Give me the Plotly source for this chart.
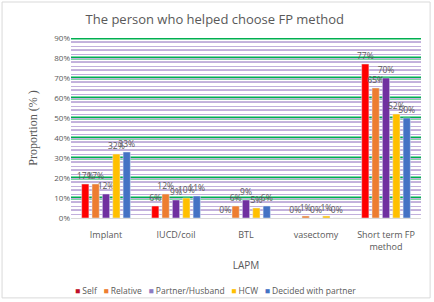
import plotly.graph_objects as go

categories = ["Implant", "IUCD/coil", "BTL", "vasectomy", "Short term FP<br>method"]
series_names = ["Self", "Relative", "Partner/Husband", "HCW", "Decided with partner"]
self_vals = [17, 6, 0, 0, 77]
relative_vals = [17, 12, 6, 1, 65]
partner_vals = [12, 9, 9, 0, 70]
hcw_vals = [32, 10, 5, 1, 52]
decided_vals = [33, 11, 6, 0, 50]
colors = ["#FF0000", "#ED7D31", "#7030A0", "#FFC000", "#4472C4"]
legend_colors = ["#C0102A", "#ED7D31", "#8E7CC3", "#FFC000", "#4472C4"]
y_ticks = [0, 10, 20, 30, 40, 50, 60, 70, 80, 90]

fig = go.Figure()
for name, vals, col in zip(series_names, [self_vals, relative_vals, partner_vals, hcw_vals, decided_vals], colors):
    fig.add_trace(go.Bar(
        x=categories, y=vals, name=name, marker_color=col,
        text=[f"{v}%" for v in vals], textposition="outside", constraintext="none",
        textfont=dict(size=8.5, color="#595959", family="Open Sans"),
        cliponaxis=False, showlegend=False,
    ))

# gridlines: green major every 10, alternating darker purple minor lines
for v in y_ticks[1:]:
    fig.add_shape(type="line", xref="paper", yref="y", x0=0, x1=1, y0=v, y1=v,
                  line=dict(color="#00B050", width=3), layer="below")
for v in y_ticks[:-1]:
    for m in (4, 8):
        fig.add_shape(type="line", xref="paper", yref="y", x0=0, x1=1, y0=v + m, y1=v + m,
                      line=dict(color="#8A6BB8", width=1), layer="below")

legend_text = "   ".join(
    f'<span style="color:{c}">■</span> {n}' for n, c in zip(series_names, legend_colors)
)
fig.add_annotation(text=legend_text, xref="paper", yref="paper", x=0.414, y=-0.405,
                   xanchor="center", yanchor="middle", showarrow=False,
                   font=dict(size=8.5, color="#595959", family="Open Sans"))

fig.update_layout(
    width=434, height=302,
    margin=dict(l=71, r=13, t=38, b=84),
    paper_bgcolor="white", plot_bgcolor="white",
    title=dict(text="The person who helped choose FP method", x=0.495, xanchor="center", y=0.952,
               font=dict(size=13, color="#595959", family="Open Sans")),
    barmode="group", bargap=0.26, bargroupgap=0.3,
    showlegend=False,
)
fig.update_xaxes(
    title=dict(text="LAPM", font=dict(size=10, color="#595959", family="Open Sans"), standoff=10),
    tickfont=dict(size=9, color="#595959", family="Open Sans"),
    ticklabelstandoff=8,
    showline=True, linecolor="#D9D9D9", ticks="", automargin=False,
)
fig.update_yaxes(
    range=[0, 90], tickvals=y_ticks, ticktext=[f"{v}%" for v in y_ticks],
    tickfont=dict(size=8, color="#595959", family="Open Sans"),
    showgrid=False,
    minor=dict(dtick=2, showgrid=True, gridcolor="#C2B0DC", gridwidth=1),
    title=dict(text="Proportion (% )", font=dict(size=12, color="#595959", family="Liberation Serif"), standoff=14),
    zeroline=False, automargin=False,
)
fig.add_shape(type="rect", xref="paper", yref="paper", x0=-0.197, x1=1.026, y0=-0.444, y1=1.2,
              line=dict(color="#D9D9D9", width=1))
fig.write_html("out.html")
